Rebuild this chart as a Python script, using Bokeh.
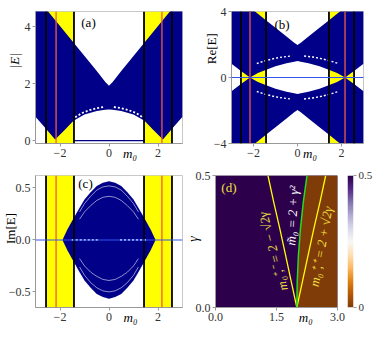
import numpy as np
from math import radians
from bokeh.plotting import figure
from bokeh.layouts import column, row
from bokeh.models import (Range1d, FixedTicker, Label, LinearColorMapper, Span,
                          ColumnDataSource, LinearAxis)
from bokeh.embed import file_html
from bokeh.resources import INLINE

# ---------------- data ----------------
BAND_LEFT = [-2.57, 1.43]
BAND_RIGHT = [-1.43, 2.57]
BLACK_LINES = [-2.57, -1.43, 1.43, 2.57]
RED_LINES = [-2.16, 2.16]

# (a) |E|
A_M = [-3.0, -2.6, -2.2, -1.8, -1.45, -1.0, -0.5, -0.15, 0.0, 0.15, 0.5, 1.0, 1.45, 1.8, 2.2, 2.6, 3.0]
A_LOW = [0.84, 0.44, 0.04, 0.38, 0.70, 0.92, 1.04, 1.085, 1.09, 1.085, 1.04, 0.92, 0.70, 0.38, 0.04, 0.44, 0.84]
A_TOP = [5.07, 4.65, 4.23, 3.81, 3.44, 2.97, 2.44, 2.06, 1.93, 2.06, 2.44, 2.97, 3.44, 3.81, 4.23, 4.65, 5.07]
A_ARC_ML = [-1.38, -1.1, -0.8, -0.5, -0.2]
A_ARC_MR = [0.2, 0.5, 0.8, 1.1, 1.38]
A_ARC_EL = [0.82, 0.97, 1.07, 1.14, 1.18]
A_ARC_ER = [1.18, 1.14, 1.07, 0.97, 0.82]
A_ZERO_M = [-1.43, 1.43]
A_ZERO_E = [0.0, 0.0]

# (b) Re[E]
B_M = [-3.0, -2.6, -2.16, -1.8, -1.45, -1.0, -0.5, -0.15, 0.0, 0.15, 0.5, 1.0, 1.45, 1.8, 2.16, 2.6, 3.0]
B_IN_UP = [0.84, 0.42, 0.0, 0.27, 0.46, 0.68, 0.86, 0.96, 1.0, 0.96, 0.86, 0.68, 0.46, 0.27, 0.0, 0.42, 0.84]
B_OUT_UP = [5.12, 4.70, 4.24, 3.86, 3.49, 3.02, 2.49, 2.11, 1.97, 2.11, 2.49, 3.02, 3.49, 3.86, 4.24, 4.70, 5.12]
B_IN_DN = [-0.84, -0.42, 0.0, -0.27, -0.46, -0.68, -0.86, -0.96, -1.0, -0.96, -0.86, -0.68, -0.46, -0.27, 0.0, -0.42, -0.84]
B_OUT_DN = [-5.12, -4.70, -4.24, -3.86, -3.49, -3.02, -2.49, -2.11, -1.97, -2.11, -2.49, -3.02, -3.49, -3.86, -4.24, -4.70, -5.12]
B_ARC_ML = [-1.85, -1.5, -1.1, -0.7, -0.3]
B_ARC_MR = [0.3, 0.7, 1.1, 1.5, 1.85]
B_ARC_UL = [0.85, 1.0, 1.14, 1.24, 1.3]
B_ARC_UR = [1.3, 1.24, 1.14, 1.0, 0.85]
B_ARC_DL = [-0.85, -1.0, -1.14, -1.24, -1.3]
B_ARC_DR = [-1.3, -1.24, -1.14, -1.0, -0.85]

# (c) Im[E]
C_M = [-1.9, -1.7, -1.44, -1.2, -1.0, -0.75, -0.5, -0.25, 0.0, 0.25, 0.5, 0.75, 1.0, 1.2, 1.44, 1.7, 1.9]
C_TOP = [0.0, 0.1, 0.21, 0.31, 0.39, 0.46, 0.52, 0.55, 0.565, 0.55, 0.52, 0.46, 0.39, 0.31, 0.21, 0.1, 0.0]
C_BOT = [0.0, -0.1, -0.21, -0.31, -0.39, -0.46, -0.52, -0.55, -0.565, -0.55, -0.52, -0.46, -0.39, -0.31, -0.21, -0.1, 0.0]
C_ARC_M = [-1.2, -1.0, -0.75, -0.5, -0.25, 0.0, 0.25, 0.5, 0.75, 1.0, 1.2]
C_ARC_1 = [0.27, 0.35, 0.42, 0.48, 0.51, 0.52, 0.51, 0.48, 0.42, 0.35, 0.27]
C_ARC_2 = [0.2, 0.27, 0.33, 0.38, 0.41, 0.42, 0.41, 0.38, 0.33, 0.27, 0.2]
C_ARC_3 = [-0.26, -0.34, -0.41, -0.46, -0.49, -0.5, -0.49, -0.46, -0.41, -0.34, -0.26]
C_ARC_4 = [-0.18, -0.25, -0.31, -0.35, -0.38, -0.39, -0.38, -0.35, -0.31, -0.25, -0.18]
C_DASH_L = [-1.52, -0.45]
C_DASH_R = [0.45, 1.52]
C_DASH_E = [0.0, 0.0]

# (d) phase diagram
D_GAMMA = [0.0, 0.1, 0.2, 0.3, 0.4, 0.5]
D_TILDE = [2.0, 2.01, 2.04, 2.09, 2.16, 2.25]
D_MINUS = [2.0, 1.86, 1.72, 1.58, 1.43, 1.29]
D_PLUS = [2.0, 2.14, 2.28, 2.42, 2.57, 2.71]
D_XLIM = (0.0, 3.0)
D_YLIM = (0.0, 0.5)
D_VALUES = [0.5, 0.0]   # left (purple) region, right (brown) region
CBAR_TICKS = [0.0, 0.5]

# ---------------- styling ----------------
BLUE = "#000088"
YELLOW = "#ffff00"
RED = "#f25a3c"
SERIF = "Liberation Serif"
TICK_FS = "12px"
PUOR = ['#7f3b08', '#b35806', '#e08214', '#fdb863', '#fee0b6', '#f7f7f7',
        '#d8daeb', '#b2abd2', '#8073ac', '#542788', '#2d004b']


def smooth_palette(cols, n=256):
    rgb = np.array([[int(c[i:i + 2], 16) for i in (1, 3, 5)] for c in cols], float)
    t = np.linspace(0, 1, len(cols))
    out = []
    for x in np.linspace(0, 1, n):
        out.append('#%02x%02x%02x' % tuple(int(round(np.interp(x, t, rgb[:, k]))) for k in range(3)))
    return out


PAL = smooth_palette(PUOR)


def style_axis(ax):
    ax.major_label_text_font = SERIF
    ax.major_label_text_font_size = TICK_FS
    ax.major_label_text_color = "#333333"
    ax.axis_line_color = "#999999"
    ax.major_tick_line_color = "#999999"
    ax.major_tick_out = 3
    ax.major_tick_in = 0
    ax.minor_tick_out = 0
    ax.minor_tick_in = 0
    ax.major_label_standoff = 2


def mkfig(w, h, xr, yr, lb, rb, tb, bb, xt, yt, xo, yo):
    p = figure(width=w, height=h, x_range=Range1d(*xr), y_range=Range1d(*yr),
               output_backend="svg", toolbar_location=None, title=None,
               min_border_left=lb, min_border_right=rb, min_border_top=tb, min_border_bottom=bb)
    p.xgrid.visible = False
    p.ygrid.visible = False
    p.outline_line_color = "#c8c8c8"
    p.background_fill_color = "white"
    p.border_fill_color = "white"
    p.xaxis.ticker = FixedTicker(ticks=xt, minor_ticks=[])
    p.yaxis.ticker = FixedTicker(ticks=yt, minor_ticks=[])
    p.xaxis.major_label_overrides = xo
    p.yaxis.major_label_overrides = yo
    style_axis(p.xaxis[0])
    style_axis(p.yaxis[0])
    p._fw = w - lb - rb
    p._fh = h - tb - bb
    p._xr = xr
    p._yr = yr
    return p


def label_axis(p, side, pos, text, standoff, italic=False, size="13px"):
    """An axis that only carries the variable name as a single tick label."""
    ax = LinearAxis(ticker=FixedTicker(ticks=[pos], minor_ticks=[]),
                    major_label_overrides={pos: text},
                    axis_line_color=None, major_tick_line_color=None,
                    major_tick_in=0, major_tick_out=0, minor_tick_in=0, minor_tick_out=0,
                    major_label_standoff=standoff,
                    major_label_text_font=SERIF, major_label_text_font_size=size,
                    major_label_text_color="black",
                    major_label_text_font_style="italic" if italic else "normal")
    if side == "left":
        ax.major_label_orientation = "parallel"
    p.add_layout(ax, side)


def add_text(p, text, px, py, size="12px", color="black", style="normal", angle=0.0):
    """px, py: pixel offsets from the frame's bottom-left corner."""
    x = p._xr[0] + px * (p._xr[1] - p._xr[0]) / p._fw
    y = p._yr[0] + py * (p._yr[1] - p._yr[0]) / p._fh
    p.add_layout(Label(x=x, y=y, text=text, text_font=SERIF, text_font_size=size,
                       text_color=color, text_font_style=style, angle=angle,
                       text_align="center", text_baseline="middle"))


def bands(p):
    p.quad(left=BAND_LEFT, right=BAND_RIGHT, bottom=p._yr[0], top=p._yr[1],
           fill_color=YELLOW, line_color=None)


def vlines(p):
    for m in BLACK_LINES:
        p.add_layout(Span(location=m, dimension="height", line_color="black", line_width=1.8))
    for m in RED_LINES:
        p.add_layout(Span(location=m, dimension="height", line_color=RED, line_width=1.3))


XO = {-2: "−2", 0: "0", 2: "2"}

# ---------------- (a) ----------------
pa = mkfig(200, 163, (-3, 3), (-0.1, 4.53), 35, 18, 7, 18,
           [-2, 0, 2], [0, 2, 4], XO, {0: "0", 2: "2", 4: "4"})
bands(pa)
pa.varea(x=A_M, y1=A_LOW, y2=A_TOP, fill_color=BLUE)
pa.line(A_ARC_ML, A_ARC_EL, line_color="white", line_width=1.8, line_dash="2 2")
pa.line(A_ARC_MR, A_ARC_ER, line_color="white", line_width=1.8, line_dash="2 2")
vlines(pa)
pa.line(A_ZERO_M, A_ZERO_E, line_color=BLUE, line_width=1.2)
add_text(pa, "(a)", 53, 127, size="13px")
label_axis(pa, "left", 2.8, "|E|", -1, italic=True)
label_axis(pa, "below", 0.86, "m₀", -14, italic=True)

# ---------------- (b) ----------------
pb = mkfig(175, 163, (-3, 3), (-4, 4), 22, 12, 11, 17,
           [-2, 0, 2], [-4, 0, 4], XO, {-4: "−4", 0: "0", 4: "4"})
bands(pb)
pb.varea(x=B_M, y1=B_IN_UP, y2=B_OUT_UP, fill_color=BLUE)
pb.varea(x=B_M, y1=B_OUT_DN, y2=B_IN_DN, fill_color=BLUE)
for xs, ys in ((B_ARC_ML, B_ARC_UL), (B_ARC_MR, B_ARC_UR), (B_ARC_ML, B_ARC_DL), (B_ARC_MR, B_ARC_DR)):
    pb.line(xs, ys, line_color="white", line_width=1.4, line_dash="2 2")
vlines(pb)
pb.add_layout(Span(location=0, dimension="width", line_color="#3355ee", line_width=1.1))
add_text(pb, "(b)", 54, 122, size="13px")
label_axis(pb, "left", 1.75, "Re[E]", -8)
label_axis(pb, "below", 0.57, "m₀", -14, italic=True)

# ---------------- (c) ----------------
pc = mkfig(183, 165, (-3, 3), (-0.65, 0.62), 35, 1, 9, 20,
           [-2, 0, 2], [-0.5, 0, 0.5], XO, {-0.5: "−0.5", 0: "0.0", 0.5: "0.5"})
bands(pc)
pc.varea(x=C_M, y1=C_BOT, y2=C_TOP, fill_color=BLUE)
for ys in (C_ARC_1, C_ARC_2, C_ARC_3, C_ARC_4):
    pc.line(C_ARC_M, ys, line_color="white", line_width=0.8, line_alpha=0.7)
pc.line(C_DASH_L, C_DASH_E, line_color="white", line_width=1.8, line_dash="2 2")
pc.line(C_DASH_R, C_DASH_E, line_color="white", line_width=1.8, line_dash="2 2")
vlines(pc)
pc.add_layout(Span(location=0, dimension="width", line_color="#3355ee", line_width=1.1))
add_text(pc, "(c)", 50, 128, size="13px")
label_axis(pc, "left", 0.11, "Im[E]", -13)
label_axis(pc, "below", 0.88, "m₀", -14, italic=True)

# ---------------- (d) ----------------
pd = mkfig(162, 165, D_XLIM, D_YLIM, 27, 8, 12, 21,
           [0, 1.5, 3], [0, 0.5], {0: "0.0", 1.5: "1.5", 3: "3.0"}, {0: "0.0", 0.5: "0.5"})
mapper = LinearColorMapper(palette=PAL, low=CBAR_TICKS[0], high=CBAR_TICKS[-1])
region_src = ColumnDataSource(dict(
    xs=[[D_XLIM[0], D_XLIM[1], D_XLIM[1], D_XLIM[0]], D_TILDE + [D_XLIM[1], D_XLIM[1]]],
    ys=[[D_YLIM[0], D_YLIM[0], D_YLIM[1], D_YLIM[1]], D_GAMMA + [D_YLIM[1], D_YLIM[0]]],
    v=D_VALUES))
pd.patches(xs="xs", ys="ys", source=region_src,
           fill_color={"field": "v", "transform": mapper}, line_color=None)
pd.line(D_MINUS, D_GAMMA, line_color=YELLOW, line_width=1.3)
pd.line(D_PLUS, D_GAMMA, line_color=YELLOW, line_width=1.3)
pd.line(D_TILDE, D_GAMMA, line_color="#22dd22", line_width=1.5)
add_text(pd, "(d)", 14, 120, size="13px", color="#f0e040")
add_text(pd, "m₀⁺,⁻ = 2 − √2γ", 60, 56, size="13px", color="#f0e040", style="italic", angle=radians(105))
add_text(pd, "m̃₀ = 2 + γ²", 80, 92, size="13px", color="white", style="italic", angle=radians(87))
add_text(pd, "m₀⁺,⁺ = 2 + √2γ", 110, 61, size="13px", color="#f0e040", style="italic", angle=radians(80))
label_axis(pd, "left", 0.26, "γ", -9, italic=True, size="14px")
label_axis(pd, "below", 2.22, "m₀", -14, italic=True)

# ---------------- colour bar of (d) ----------------
pcb = figure(width=30, height=165, x_range=Range1d(0, 1), y_range=Range1d(CBAR_TICKS[0], CBAR_TICKS[-1]),
             output_backend="svg", toolbar_location=None, title=None,
             min_border_left=2, min_border_right=20, min_border_top=12, min_border_bottom=21,
             x_axis_location=None, y_axis_location="right")
pcb.xgrid.visible = False
pcb.ygrid.visible = False
pcb.outline_line_color = None
pcb.border_fill_color = "white"
grad = np.linspace(CBAR_TICKS[0], CBAR_TICKS[-1], 256).reshape(-1, 1)
pcb.image(image=[grad], x=0, y=CBAR_TICKS[0], dw=1, dh=CBAR_TICKS[-1] - CBAR_TICKS[0], color_mapper=mapper)
pcb.yaxis.ticker = FixedTicker(ticks=CBAR_TICKS, minor_ticks=[])
pcb.yaxis.major_label_overrides = {0: "0", 0.5: "0.5"}
style_axis(pcb.yaxis[0])
pcb.yaxis.axis_line_color = None
pcb.yaxis.major_label_text_font_size = "11px"

layout = column(row(pa, pb), row(pc, pd, pcb))
open("out.html", "w").write(file_html(layout, INLINE))
